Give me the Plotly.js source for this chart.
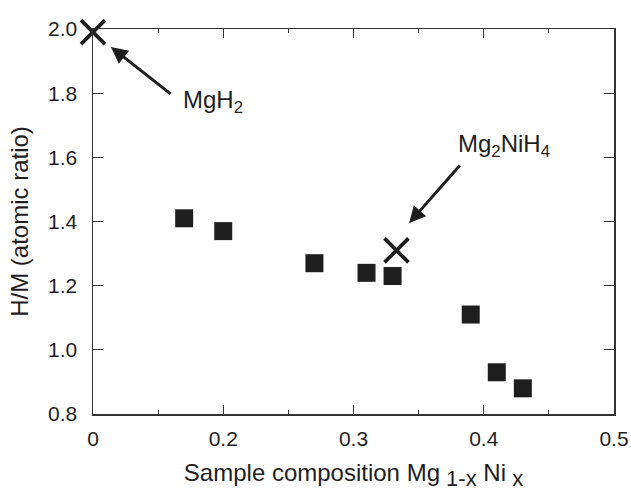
<!DOCTYPE html>
<html>
<head>
<meta charset="utf-8">
<script src="https://cdn.plot.ly/plotly-3.0.1.min.js"></script>
<style>
  html, body { margin: 0; padding: 0; background: #fff; }
  #chart { width: 631px; height: 491px; }
</style>
</head>
<body>
<div id="chart"></div>
<script>
// Measured samples: x position on the composition axis, H/M ratio
const sampleX = [0.17, 0.20, 0.27, 0.31, 0.33, 0.39, 0.41, 0.43];
const sampleHM = [1.41, 1.37, 1.27, 1.24, 1.23, 1.11, 0.93, 0.88];

// Reference hydrides (the axis starts at the pure Mg end)
const refNames = ['MgH<sub>2</sub>', 'Mg<sub>2</sub>NiH<sub>4</sub>'];
const refX = [0.10, 0.333];
const refHM = [1.99, 1.31];

// Axis ticks
const xTickVals = [0.1, 0.2, 0.3, 0.4, 0.5];
const xTickText = ['0', '0.2', '0.3', '0.4', '0.5'];
const yTickVals = [0.8, 1.0, 1.2, 1.4, 1.6, 1.8, 2.0];
const yTickText = ['0.8', '1.0', '1.2', '1.4', '1.6', '1.8', '2.0'];

const ink = '#1e1e1e';
const font = 'Liberation Sans, Arial, Helvetica, sans-serif';

const traces = [
  {
    x: sampleX, y: sampleHM, type: 'scatter', mode: 'markers',
    marker: { symbol: 'square', size: 18, color: ink, line: { width: 0 } },
    hoverinfo: 'skip', cliponaxis: false
  },
  {
    x: refX, y: refHM, type: 'scatter', mode: 'markers',
    marker: { symbol: 'x-thin-open', size: 24, color: ink, line: { width: 3.8, color: ink } },
    hoverinfo: 'skip', cliponaxis: false
  }
];

const axisCommon = {
  showline: true, linecolor: '#333', linewidth: 1.5, mirror: 'ticks',
  ticks: 'inside', tickcolor: '#333', tickwidth: 1.2,
  showgrid: false, zeroline: false,
  tickfont: { family: font, size: 21, color: ink }
};

const labelFont = { family: font, size: 24, color: ink };

const layout = {
  width: 631, height: 491,
  margin: { l: 93, r: 17, t: 29, b: 77 },
  paper_bgcolor: '#fff', plot_bgcolor: '#fff',
  showlegend: false,
  xaxis: Object.assign({}, axisCommon, {
    range: [0.1, 0.5],
    tickmode: 'array', tickvals: xTickVals, ticktext: xTickText,
    ticklen: 9, ticklabelstandoff: 5,
    minor: { dtick: 0.05, ticks: 'inside', ticklen: 4, tickcolor: '#333', tickwidth: 1.2 },
    title: {
      text: 'Sample composition Mg<sub><span style="font-size:22px">&nbsp;1-x</span></sub> Ni<sub><span style="font-size:22px">&nbsp;x</span></sub>',
      font: labelFont, standoff: 22
    }
  }),
  yaxis: Object.assign({}, axisCommon, {
    range: [0.8, 2.0],
    tickmode: 'array', tickvals: yTickVals, ticktext: yTickText,
    ticklen: 10, ticklabelstandoff: 10,
    title: { text: 'H/M (atomic ratio)', font: labelFont, standoff: 12 }
  }),
  annotations: [
    // arrows
    { x: 0.1138, y: 1.944, ax: 0.1607, ay: 1.794, axref: 'x', ayref: 'y', xref: 'x', yref: 'y',
      text: '', showarrow: true, arrowhead: 2, arrowsize: 1.1, arrowwidth: 3, arrowcolor: ink },
    { x: 0.3427, y: 1.395, ax: 0.3826, ay: 1.579, axref: 'x', ayref: 'y', xref: 'x', yref: 'y',
      text: '', showarrow: true, arrowhead: 2, arrowsize: 1.1, arrowwidth: 3, arrowcolor: ink },
    // labels
    { x: 0.1676, y: 1.775, xref: 'x', yref: 'y', xanchor: 'left', yanchor: 'middle',
      text: refNames[0], showarrow: false, font: labelFont },
    { x: 0.3790, y: 1.636, xref: 'x', yref: 'y', xanchor: 'left', yanchor: 'middle',
      text: refNames[1], showarrow: false, font: labelFont }
  ]
};

Plotly.newPlot('chart', traces, layout, { staticPlot: true, displayModeBar: false });
</script>
</body>
</html>
